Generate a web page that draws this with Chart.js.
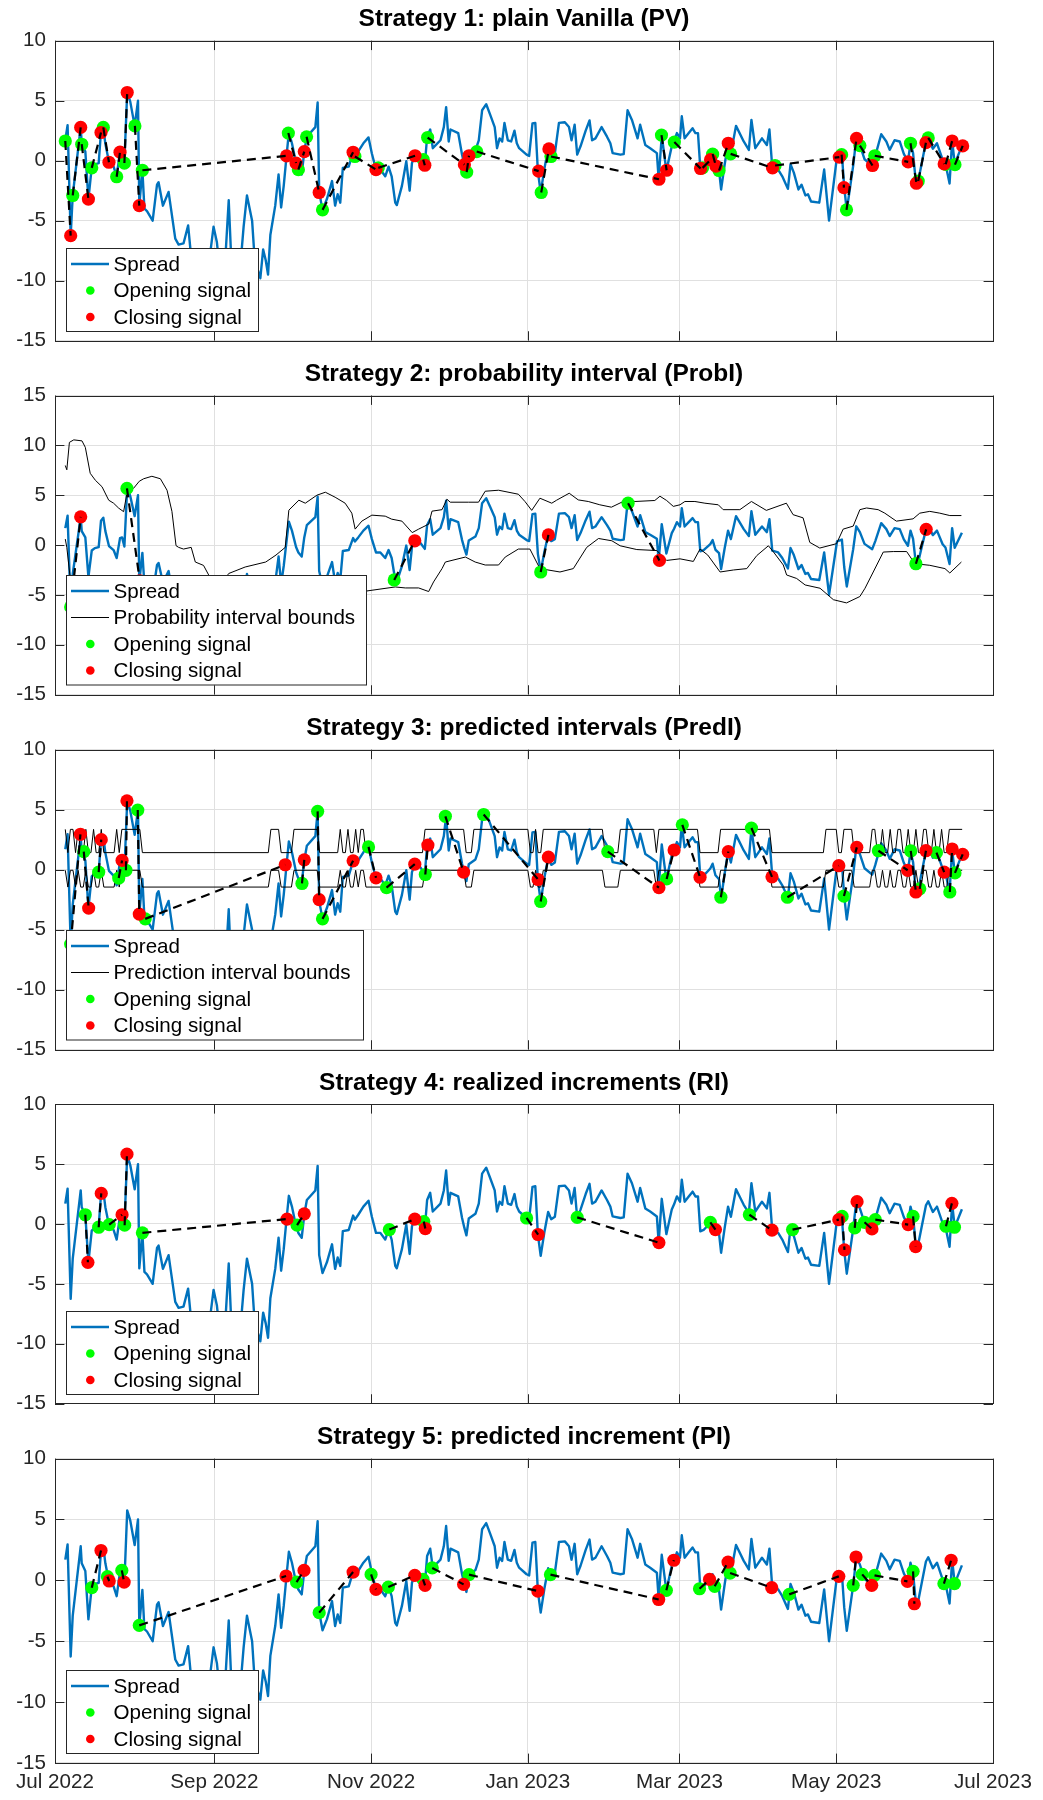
<!DOCTYPE html>
<html>
<head>
<meta charset="utf-8">
<script src="https://cdn.jsdelivr.net/npm/chart.js@4.4.1/dist/chart.umd.min.js"></script>
<style>
  body { margin: 0; background: #fff; width: 1043px; height: 1800px; position: relative; overflow: hidden; }
  canvas { position: absolute; left: 0; }
</style>
</head>
<body>
<script>
// --- x axis: days since 1 Jul 2022 ---
const monthTickDays = [0, 62, 123, 184, 243, 304, 365];
const monthTickLabels = ['Jul 2022', 'Sep 2022', 'Nov 2022', 'Jan 2023', 'Mar 2023', 'May 2023', 'Jul 2023'];

// --- Spread ---
const spreadDay = [4, 4.9, 6.1, 6.9, 10, 10.4, 11.8, 13, 14.3, 15.5, 17, 17.9, 18.8, 19.6, 21, 22.8, 24, 25.3, 26.1, 27,
    28.1, 29.3, 31, 32.3, 32.8, 34, 34.8, 35.8, 38, 39.7, 40.3, 42, 44.2, 46.8, 48.1, 50, 51.8, 52.7, 54, 55,
    56, 57, 58, 60, 61.7, 63, 64, 65, 66, 67.6, 68.5, 69.5, 70.5, 72, 73.4, 74.7, 76.7, 77.5, 78.5, 79.9,
    81, 82, 82.9, 83.8, 85.7, 87, 88, 89, 90.1, 91, 92.2, 93.8, 94.7, 96, 97, 98, 101.3, 102.2, 102.8, 104.1,
    105.8, 107.8, 109, 110, 111, 112, 114.3, 116, 116.7, 118, 120, 122, 123.3, 124.9, 126.6, 128.5, 129.8, 131, 132.4, 133,
    135, 136.7, 138, 138.9, 140, 142.2, 143.9, 144.8, 146, 147, 150, 151.3, 152.2, 153.2, 153.9, 156.9, 158.4, 159.3, 160.1, 161,
    163.6, 164.9, 166.2, 167.8, 169.4, 171.1, 172, 173, 174, 174.9, 176.2, 177.5, 178.8, 179.7, 180.6, 183.5, 184.5, 185.8, 186.9, 187.9,
    189, 190.5, 191.9, 193.1, 194.5, 196.1, 198.4, 200, 201, 202.2, 203.2, 204.5, 206.5, 208, 209, 210.3, 212.7, 214.8, 216.1, 217,
    220, 221.3, 222.8, 224.5, 226.7, 227.7, 229.7, 231.6, 234.2, 234.9, 236.1, 237.9, 240, 240.9, 242, 243.2, 243.9, 245, 246.6, 248.1,
    249.2, 250.2, 251.1, 252.4, 255, 255.9, 257, 258.4, 259.2, 260.6, 261.9, 263, 265, 268, 270, 271, 272.5, 275.1, 277, 278,
    279.1, 281.4, 283, 285.2, 286.2, 287.5, 289.3, 290.5, 292, 293, 294.2, 297.4, 299.3, 301.2, 304.3, 306.2, 307.1, 308.1, 310.6, 311.8,
    313.2, 315, 318, 319.2, 321.5, 323.5, 324.8, 326.7, 328.7, 330.3, 331.9, 332.9, 333.9, 335, 335.9, 337, 338.9, 339.8, 341.6, 343.2,
    345.4, 346.5, 348.1, 349.1, 350.1, 352.9];
const spreadVal = [1.7, 2.95, -6.25, -2.9, 2.8, 1.4, 0.77, -3.2, -0.55, -0.3, -0.2, 2.45, 2.75, 1.4, -0.1, -0.5, -1.3, 0.7, 0.77, -0.15,
    5.75, 4.9, 2.9, 5.0, -3.7, -0.78, -4.0, -4.2, -5.0, -2.0, -1.8, -3.75, -2.6, -6.5, -7.0, -6.9, -5.4, -7.4, -8.7, -9.6,
    -8.2, -10.1, -9.0, -8.4, -5.5, -6.8, -8.9, -10.6, -9.2, -3.3, -7.8, -9.6, -8.0, -9.1, -5.5, -2.9, -5.0, -7.6, -8.8, -9.8,
    -7.4, -8.3, -9.5, -6.2, -3.75, -1.15, -3.9, -2.1, 0.4, 2.35, 1.45, -0.2, -0.75, -1.15, 0.77, 2.0, 2.8, 4.85, -2.6, -4.1,
    -3.2, -1.7, -3.75, -2.8, -3.5, -0.6, -0.5, 0.7, 0.36, 0.77, 1.45, 1.94, 0.6, -0.74, -0.74, -1.3, -0.5, -1.3, -3.5, -3.7,
    -2.1, -0.05, -2.5, -0.2, 0.41, 0.2, -0.38, 2.0, 2.6, 1.04, 1.7, 2.8, 4.46, 1.6, 2.6, 2.3, 0.5, -0.33, -0.95, 0.45,
    0.85, 1.7, 4.2, 4.7, 3.8, 2.8, 1.04, 1.86, 1.6, 3.15, 1.7, 1.6, 2.5, 1.45, 1.04, 0.5, 0.4, 3.1, 3.15, -0.88,
    -2.65, -0.6, 1.0, 0.4, 0.6, 3.15, 3.2, 2.8, 1.7, 3.0, 0.5, 1.2, 2.5, 3.35, 1.7, 1.86, 2.8, 2.0, 1.45, 0.63,
    0.5, 0.55, 4.2, 3.4, 1.86, 3.0, 1.3, 1.04, 0.63, -1.55, 2.1, -0.85, 1.2, 1.64, 2.3, 1.86, 3.7, 1.86, 2.3, 2.7,
    2.3, 2.3, -0.62, -0.5, 0.1, 0.5, -0.47, -0.8, -2.4, -0.3, 1.45, 0.6, 2.9, 1.6, 0.9, 3.4, 1.04, 1.86, 1.3, 2.6,
    -0.55, -0.74, -1.3, -2.35, -0.3, -1.0, -2.4, -2.0, -2.9, -2.8, -3.4, -3.5, -0.74, -5.0, 0.36, 0.55, -2.2, -4.15, -0.41, 1.88,
    1.3, 0.12, -0.41, 0.4, 2.2, 1.6, 0.9, 1.7, 1.6, 0.57, -0.07, 1.45, 0.63, -1.88, -1.7, -0.5, 1.55, 1.9, 1.0, 1.45,
    0.08, -0.25, -1.9, 1.7, -0.27, 1.23];

// --- Strategy 1: PV signals [day, spread] (open i pairs with close i) ---
const s1Open = [[4, 1.64], [6.9, -2.9], [10.4, 1.37], [14.3, -0.6], [18.8, 2.77], [24, -1.34], [27, -0.2], [31.1, 2.9], [34, -0.8],
    [90.8, 2.3], [94.7, -0.75], [97.9, 1.99], [104.1, -4.1], [116.7, 0.35], [125.8, -0.6], [143.3, 0.08], [145, 1.93], [160.2, -0.95],
    [164.1, 0.76], [189.2, -2.65], [193, 0.35], [236, 2.13], [241, 1.55], [252, -0.6], [255.9, 0.55], [258.4, -0.82], [262.9, 0.57],
    [280.2, -0.4], [306.1, 0.5], [308, -4.1], [313.2, 1.26], [319, 0.41], [332.9, 1.45], [335.9, -1.7], [339.8, 1.9], [346.6, -0.3],
    [350.2, -0.33]];
const s1Close = [[6.1, -6.25], [10, 2.77], [13, -3.2], [17.9, 2.35], [21, -0.13], [25.3, 0.71], [28.1, 5.68], [32.8, -3.75], [90.1, 0.4],
    [93.8, -0.2], [97, 0.76], [102.8, -2.65], [116, 0.7], [124.9, -0.74], [140.1, 0.41], [143.9, -0.38], [159.3, -0.33], [161.1, 0.41],
    [188.2, -0.87], [192.2, 0.98], [235, -1.55], [238, -0.8], [251.2, -0.65], [255.1, 0.08], [257.2, -0.46], [262, 1.45], [279.2, -0.6],
    [305.2, 0.3], [307, -2.25], [311.9, 1.86], [318.1, -0.4], [332, -0.1], [335.2, -1.88], [338.9, 1.5], [346, -0.27], [349.1, 1.64],
    [353.2, 1.23]];

// --- Strategy 2: ProbI ---
const s2Open = [[6.1, -6.2], [28, 5.68], [132, -3.5], [189, -2.7], [223, 4.2], [335, -1.87]];
const s2Close = [[10, 2.83], [33, -3.6], [140, 0.43], [192, 1.02], [235.2, -1.54], [339, 1.58]];
const probUpperDay = [4, 4.6, 5.6, 7.3, 10.5, 11.8, 13.7, 15.7, 18.3, 20.9, 22.8, 24.8, 26.7, 28, 30.6, 32.8, 34.5, 37.7, 41, 43.6,
    45.5, 47.1, 48.1, 50, 53, 54.6, 57.8, 59.8, 62, 65, 67.6, 74, 82, 86, 89.6, 91, 94.9, 97.4, 101.9, 105.2,
    109, 112.9, 115.5, 116.8, 119.4, 123.3, 128.5, 131, 135, 139, 141.5, 145.4, 146.7, 150.6, 152.5, 153.8, 160.9, 164.8, 167.4, 172.6,
    180.3, 182.9, 185.5, 188.7, 193.3, 195.2, 200.1, 203.6, 207.5, 212, 216.5, 222.4, 225.7, 233.4, 235.4, 238, 240.6, 243.2, 245.1, 249,
    252.9, 258.1, 260, 266.5, 271, 276.8, 284.6, 287.2, 291.1, 293.7, 297.6, 304.1, 306.7, 310.6, 313.2, 315.8, 320.3, 322.9, 327.4, 333.9,
    336.5, 340.4, 344.3, 348.2, 352.7];
const probUpperVal = [7.98, 7.55, 10.3, 10.55, 10.45, 9.8, 7.2, 6.5, 5.85, 4.5, 4.2, 3.7, 3.35, 5.2, 5.7, 6.4, 6.65, 6.9, 6.65, 5.5,
    3.38, -0.06, -0.23, -0.4, -0.23, -1.7, -2.04, -3.0, -3.6, -3.8, -2.85, -2.2, -1.7, -1.0, -0.23, 3.5, 4.5, 4.2, 5.0, 5.3,
    4.8, 4.2, 3.2, 1.6, 2.4, 3.0, 2.9, 2.6, 2.4, 1.25, 1.6, 2.1, 3.4, 3.55, 4.6, 4.3, 4.3, 4.3, 5.4, 5.5,
    5.1, 4.36, 3.48, 4.7, 4.2, 4.5, 5.2, 4.53, 4.37, 4.04, 3.8, 4.53, 4.37, 4.47, 4.9, 4.47, 3.88, 4.04, 4.37, 4.37,
    4.2, 4.04, 3.55, 3.55, 4.37, 3.48, 4.2, 3.05, 2.73, 0.27, -0.3, 0.14, 1.6, 1.9, 3.55, 3.72, 3.55, 3.2, 2.4, 2.63,
    3.2, 3.38, 3.2, 2.96, 2.96];
const probLowerDay = [4, 4.6, 6, 8, 12, 16, 20, 25, 30, 35, 40, 45, 50, 55, 60, 65, 70, 75, 80, 85,
    90, 95, 100, 105, 110, 115, 119, 121.4, 132.4, 136.3, 141.5, 145.4, 147.3, 150.6, 151.9, 159.7, 163.5, 167.4, 172.6, 175.2,
    180.3, 184.8, 188.7, 196.5, 201.7, 206.9, 211.5, 216.7, 219.9, 226.4, 234.2, 238, 243.2, 248.4, 251, 254, 258.8, 264, 269.2, 273.1,
    277.6, 279.6, 283.4, 284.7, 288.6, 291.9, 297.7, 302.9, 308, 313.2, 315.2, 318.4, 322.3, 326.2, 331.4, 334.6, 340.4, 346.3, 348.2, 352.7];
const probLowerVal = [0.6, -0.23, -3.5, -5.0, -5.5, -4.8, -5.5, -6.0, -5.2, -7.5, -8.2, -9.0, -10.5, -11.5, -12.0, -12.3, -12.0, -12.5, -12.2, -11.0,
    -9.0, -8.2, -7.5, -8.5, -8.0, -6.8, -5.5, -4.6, -4.2, -4.3, -4.3, -4.66, -3.7, -2.36, -1.7, -1.2, -1.7, -2.0, -2.0, -1.2,
    -0.4, -0.4, -2.36, -2.7, -2.36, -0.23, 0.66, 0.43, -0.07, -0.45, -0.55, -1.54, -1.38, -1.64, -0.4, -1.0, -2.7, -2.5, -2.36, -1.05,
    -0.07, -0.7, -2.0, -3.0, -3.35, -4.0, -4.33, -5.48, -5.8, -5.16, -4.33, -2.7, -0.7, -0.65, -0.65, -1.87, -2.03, -2.36, -2.8, -1.7];

// --- Strategy 3: PredI ---
const s3Open = [[6.1, -6.2], [11.2, 1.5], [17, -0.2], [24.8, -0.7], [27.6, -0.05], [32.2, 4.97], [35.1, -4.1], [96.1, -1.15],
    [102.2, 4.86], [104.1, -4.1], [122, 1.9], [129, -1.5], [144.1, -0.4], [151.9, 4.45], [166.8, 4.6], [189, -2.65], [215.1, 1.5],
    [238, -0.77], [244.1, 3.74], [259.1, -2.3], [271, 3.47], [285, -2.3], [307, -2.2], [320.4, 1.58], [333, 1.56], [336.5, -1.6],
    [343, 1.42], [348.2, -1.86], [350.2, -0.27]];
const s3Close = [[9.9, 2.95], [13.1, -3.2], [18, 2.5], [26.1, 0.77], [28, 5.74], [32.8, -3.7], [89.6, 0.41], [97, 0.82],
    [102.8, -2.5], [116, 0.74], [124.9, -0.68], [140, 0.46], [145.1, 2.05], [159, -0.2], [188, -0.82], [192, 1.04], [235, -1.5],
    [240.9, 1.64], [251, -0.63], [262, 1.5], [279, -0.6], [305, 0.33], [312, 1.86], [331.8, -0.05], [335, -1.86], [338.9, 1.58],
    [346, -0.2], [349.1, 1.72], [353.2, 1.28]];
// prediction interval regime runs: start day, 1 = high regime, 0 = low regime
const predRunStart = [4, 5, 6, 8, 9, 10, 12, 13, 15, 16, 18, 19, 24, 25, 26, 34, 84, 88, 93, 103,
    111, 112, 114, 115, 117, 118, 119, 121, 144, 160, 163, 185, 187, 188, 190, 214, 220, 234, 235, 251,
    259, 279, 300, 305, 307, 311, 318, 320, 322, 323, 325, 326, 328, 330, 332, 333, 335, 336, 338, 340,
    342, 343, 345, 346, 348];
const predRunHigh = [1, 0, 1, 0, 1, 0, 1, 0, 1, 0, 1, 0, 1, 0, 1, 0, 1, 0, 1, 0,
    1, 0, 1, 0, 1, 0, 1, 0, 1, 0, 1, 0, 1, 0, 1, 0, 1, 0, 1, 0,
    1, 0, 1, 0, 1, 0, 1, 0, 1, 0, 1, 0, 1, 0, 1, 0, 1, 0, 1, 0,
    1, 0, 1, 0, 1];
const predLastDay = 353;
const predUpperLevel = [1.42, 3.36];
const predLowerLevel = [-1.45, -0.05];

// --- Strategy 4: RI ---
const s4Open = [[11.8, 0.77], [17, -0.27], [21.1, -0.05], [27.1, -0.1], [34, -0.74], [94.2, -0.1], [130.1, -0.47], [143.5, 0.2],
    [183.5, 0.5], [203.2, 0.55], [255, 0.14], [270.2, 0.77], [287, -0.47], [306.3, 0.63], [311.2, -0.33], [315, 0.14], [319.2, 0.36],
    [333.9, 0.63], [346.7, -0.19], [350, -0.27]];
const s4Close = [[12.8, -3.2], [18, 2.55], [26.1, 0.77], [28, 5.83], [90.3, 0.41], [97, 0.85], [140, 0.41], [144.1, -0.38],
    [188, -0.88], [235, -1.56], [257, -0.47], [279, -0.52], [305, 0.36], [307.2, -2.16], [312.1, 1.86], [317.9, -0.41], [332, -0.05],
    [334.9, -1.89], [349, 1.72], null];

// --- Strategy 5: PI ---
const s5Open = [[14.3, -0.6], [20.4, 0.3], [26, 0.82], [32.8, -3.7], [94, -0.14], [102.8, -2.65], [123, 0.49], [129.7, -0.55],
    [143.2, 0.08], [146.8, 1.02], [161.1, 0.47], [192.8, 0.47], [237.9, -0.82], [250.8, -0.69], [256.7, -0.49], [262.7, 0.6],
    [285.7, -1.15], [310.6, -0.41], [314.1, 0.49], [318.9, 0.41], [333.9, 0.74], [345.9, -0.27], [350, -0.27]];
const s5Close = [[17.9, 2.45], [21.1, -0.05], [26.9, -0.14], [89.9, 0.36], [96.9, 0.82], [116, 0.68], [124.9, -0.74], [140, 0.41],
    [144, -0.41], [159, -0.33], [187.9, -0.88], [234.9, -1.57], [240.8, 1.65], [254.7, 0.08], [261.9, 1.5], [278.9, -0.6],
    [305, 0.33], [311.7, 1.92], [317.8, -0.41], [331.7, -0.08], [334.4, -1.92], [348.7, 1.65], null];

// ---------------------------------------------------------------
const FONT = '"Liberation Sans", Arial, Helvetica, sans-serif';
const AXIS_COLOR = '#262626';
const GRID_COLOR = '#e0e0e0';
const SPREAD_COLOR = '#0072BD';
Chart.defaults.font.family = FONT;
Chart.defaults.font.size = 20.6;
Chart.defaults.color = AXIS_COLOR;

// panel plot-area tops in page pixels, and plot height
const panelTops = [40.7, 395.5, 749.7, 1104.2, 1458.6];
const plotH = 304.4;
const TITLE_SPACE = 41;

function xy(days, vals) { return days.map((d, i) => ({ x: d, y: vals[i] })); }
function pairs(list) { return list.filter(p => p).map(p => ({ x: p[0], y: p[1] })); }

// open -> close dashed segments, gaps between trades
function tradePath(open, close) {
    const out = [];
    open.forEach((o, i) => {
        const c = close[i];
        if (!c) return;
        out.push({ x: o[0], y: o[1] }, { x: c[0], y: c[1] }, { x: c[0], y: null });
    });
    return out;
}

function predBound(levels) {
    const out = [];
    predRunStart.forEach((s, i) => {
        const e = i < predRunStart.length - 1 ? predRunStart[i + 1] - 1 : predLastDay;
        const v = levels[predRunHigh[i]];
        out.push({ x: s, y: v });
        if (e > s) out.push({ x: e, y: v });
    });
    return out;
}

// MATLAB-like frame: box, inward ticks, title, legend inside lower left
const matlabFrame = {
    id: 'matlabFrame',
    afterDraw(chart, args, opts) {
        const { ctx, chartArea: a, scales: { x, y } } = chart;
        const TL = 9.4;
        ctx.save();
        ctx.strokeStyle = AXIS_COLOR;
        ctx.lineWidth = 1;
        ctx.beginPath();
        x.ticks.forEach(t => {
            const px = Math.round(x.getPixelForValue(t.value)) + 0.5;
            ctx.moveTo(px, a.bottom); ctx.lineTo(px, a.bottom - TL);
            ctx.moveTo(px, a.top); ctx.lineTo(px, a.top + TL);
        });
        y.ticks.forEach(t => {
            const py = Math.round(y.getPixelForValue(t.value)) + 0.5;
            ctx.moveTo(a.left, py); ctx.lineTo(a.left + TL, py);
            ctx.moveTo(a.right, py); ctx.lineTo(a.right - TL, py);
        });
        ctx.stroke();
        ctx.strokeRect(Math.round(a.left) + 0.5, Math.round(a.top) + 0.5, Math.round(a.right - a.left), Math.round(a.bottom - a.top));

        // title
        ctx.fillStyle = '#000';
        ctx.font = 'bold 24.5px ' + FONT;
        ctx.textAlign = 'center';
        ctx.textBaseline = 'middle';
        ctx.fillText(opts.title, (a.left + a.right) / 2, a.top - 21);

        // legend
        const items = opts.legend;
        const rowH = 26.5;
        const bw = opts.legendWidth;
        const bh = 30 + (items.length - 1) * rowH;
        const bx = Math.round(a.left + 10.7);
        const by = Math.round(a.bottom - 10 - bh);
        ctx.fillStyle = '#fff';
        ctx.fillRect(bx, by, bw, bh);
        ctx.strokeStyle = AXIS_COLOR;
        ctx.lineWidth = 1;
        ctx.strokeRect(bx + 0.5, by + 0.5, bw, bh);
        ctx.font = '20.6px ' + FONT;
        ctx.textAlign = 'left';
        items.forEach((it, i) => {
            const cy = by + 16 + i * rowH;
            if (it.kind === 'line') {
                ctx.strokeStyle = it.color;
                ctx.lineWidth = it.width;
                ctx.beginPath();
                ctx.moveTo(bx + 5, cy); ctx.lineTo(bx + 43, cy);
                ctx.stroke();
            } else {
                ctx.fillStyle = it.color;
                ctx.beginPath();
                ctx.arc(bx + 24.3, cy, 4.3, 0, Math.PI * 2);
                ctx.fill();
            }
            ctx.fillStyle = '#000';
            ctx.fillText(it.label, bx + 47.6, cy + 1);
        });
        ctx.restore();
    }
};

const legSpread = { label: 'Spread', kind: 'line', color: SPREAD_COLOR, width: 2.4 };
const legOpen = { label: 'Opening signal', kind: 'dot', color: '#00ff00' };
const legClose = { label: 'Closing signal', kind: 'dot', color: '#ff0000' };

function makePanel(idx, cfg) {
    const top = panelTops[idx];
    const last = idx === panelTops.length - 1;
    const canvasTop = Math.floor(top - TITLE_SPACE);
    const padTop = top - canvasTop;
    const height = last ? 1800 - canvasTop : Math.ceil(padTop + plotH + 16);
    const below = height - padTop - plotH;   // room under the plot area

    const canvas = document.createElement('canvas');
    canvas.width = 1043;
    canvas.height = height;
    canvas.style.top = canvasTop + 'px';
    document.body.appendChild(canvas);

    const datasets = [
        { label: 'trades', data: tradePath(cfg.open, cfg.close), borderColor: '#000', borderWidth: 2.2,
          borderDash: [9, 6], pointRadius: 0, spanGaps: false, order: 0 },
        { label: 'Closing signal', data: pairs(cfg.close), showLine: false, pointRadius: 6.6,
          pointBackgroundColor: '#ff0000', pointBorderWidth: 0, order: 1 },
        { label: 'Opening signal', data: pairs(cfg.open), showLine: false, pointRadius: 6.6,
          pointBackgroundColor: '#00ff00', pointBorderWidth: 0, order: 2 },
        { label: 'Spread', data: xy(spreadDay, spreadVal), borderColor: SPREAD_COLOR, borderWidth: 2.4,
          borderJoinStyle: 'round', pointRadius: 0, order: 5 }
    ];
    (cfg.bounds || []).forEach(b => {
        datasets.push({ label: 'bounds', data: b, borderColor: '#000', borderWidth: 1, pointRadius: 0, order: 3 });
    });

    new Chart(canvas, {
        type: 'line',
        data: { datasets },
        options: {
            responsive: false,
            animation: false,
            events: [],
            // bottom panel: the x axis box itself holds the month labels
            layout: { padding: { top: padTop, right: 50, bottom: last ? 0 : below, left: 0 } },
            plugins: {
                legend: { display: false },
                tooltip: { enabled: false },
                title: { display: false },
                matlabFrame: { title: cfg.title, legend: cfg.legend, legendWidth: cfg.legendWidth }
            },
            scales: {
                x: {
                    type: 'linear', min: 0, max: 365,
                    afterBuildTicks: s => { s.ticks = monthTickDays.map(v => ({ value: v })); },
                    afterFit: s => { s.height = last ? below : 0; },
                    grid: { color: GRID_COLOR, drawTicks: false },
                    border: { display: false },
                    ticks: { display: last, padding: 7, maxRotation: 0, autoSkip: false,
                             callback: (v, i) => monthTickLabels[i] }
                },
                y: {
                    type: 'linear', min: cfg.yMin, max: cfg.yMax,
                    afterFit: s => { s.width = 55; },
                    grid: { color: GRID_COLOR, drawTicks: false },
                    border: { display: false },
                    ticks: { stepSize: 5, padding: 9 }
                }
            }
        },
        plugins: [matlabFrame]
    });
}

makePanel(0, { title: 'Strategy 1: plain Vanilla (PV)', yMin: -15, yMax: 10, open: s1Open, close: s1Close,
    legend: [legSpread, legOpen, legClose], legendWidth: 192 });
makePanel(1, { title: 'Strategy 2: probability interval (ProbI)', yMin: -15, yMax: 15, open: s2Open, close: s2Close,
    bounds: [xy(probUpperDay, probUpperVal), xy(probLowerDay, probLowerVal)],
    legend: [legSpread, { label: 'Probability interval bounds', kind: 'line', color: '#000', width: 1 }, legOpen, legClose],
    legendWidth: 300 });
makePanel(2, { title: 'Strategy 3: predicted intervals (PredI)', yMin: -15, yMax: 10, open: s3Open, close: s3Close,
    bounds: [predBound(predUpperLevel), predBound(predLowerLevel)],
    legend: [legSpread, { label: 'Prediction interval bounds', kind: 'line', color: '#000', width: 1 }, legOpen, legClose],
    legendWidth: 297 });
makePanel(3, { title: 'Strategy 4: realized increments (RI)', yMin: -15, yMax: 10, open: s4Open, close: s4Close,
    legend: [legSpread, legOpen, legClose], legendWidth: 192 });
makePanel(4, { title: 'Strategy 5: predicted increment (PI)', yMin: -15, yMax: 10, open: s5Open, close: s5Close,
    legend: [legSpread, legOpen, legClose], legendWidth: 192 });
</script>
</body>
</html>
